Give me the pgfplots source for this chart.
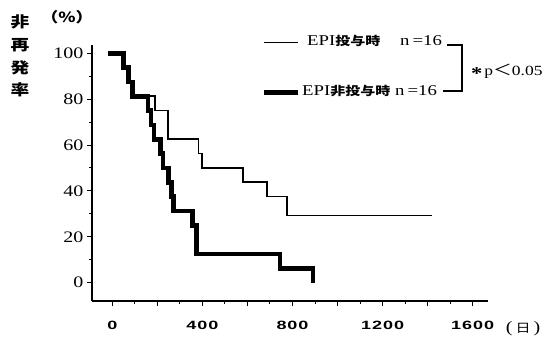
\documentclass[border=0pt]{standalone}
\usepackage{fontspec}
\usepackage{pgfplots}
\pgfplotsset{compat=1.18}
\setmainfont{Liberation Serif}[FakeStretch=1.25]
\newfontfamily\xfont{Liberation Sans}[FakeStretch=1.5, LetterSpace=8]
\newfontfamily\cjk{Noto Sans CJK JP}[FakeStretch=1.25]
\begin{document}
\begin{tikzpicture}
\useasboundingbox (0,0) rectangle (544bp,-342bp);
\begin{axis}[
  at={(92bp,-301bp)}, anchor=south west,
  width=396bp, height=256bp, scale only axis,
  xmin=-90, xmax=1668, ymin=-8, ymax=103.6,
  axis x line*=bottom, axis y line*=left,
  axis line style={line width=1.2bp},
  xtick={0,200,...,1600}, xticklabels={0,,400,,800,,1200,,1600},
  minor xtick={100,300,...,1500},
  ytick={0,20,...,100}, minor ytick={10,30,...,90},
  yticklabels={0,20,40,60,80,100},
  tick align=outside,
  major tick length=5bp, minor tick length=3bp,
  tick style={black, line width=1bp},
  /pgf/number format/assume math mode=true,
  xticklabel style={font=\xfont\bfseries\fontsize{12bp}{13bp}\selectfont, anchor=north, yshift=-12bp},
  yticklabel style={font=\fontsize{16bp}{17bp}\selectfont, anchor=east},
  legend style={draw=none, fill=none, at={(0.428,1.04)}, anchor=north west,
    inner sep=0pt, row sep=35bp, cells={anchor=west},
    font=\fontsize{15bp}{16bp}\selectfont,
    nodes={inner sep=1bp, text height=10bp, text depth=3bp}},
  legend image code/.code={\draw[#1] (0bp,0bp) -- (34bp,0bp);},
]
\addplot[const plot, black, line width=1.6bp, line join=miter] coordinates {
(-20,100) (49,93.75) (71,87.5) (90,81.25) (189,75) (248,62.5) (382,56.25)
(397,50) (581,43.75) (688,37.5) (777,29.2) (1418,29.2)};
\addlegendentry{\makebox[99bp][l]{\hspace{6bp}EPI{\cjk\bfseries\fontsize{12bp}{13bp}\selectfont 投与時}}n\hspace{3bp}=16}
\addplot[const plot, black, line width=4.5bp, line join=miter] coordinates {
(-20,100) (49,93.75) (71,87.5) (90,81.25) (158,75) (172,68.75) (185,62.5)
(215,56.25) (226,50) (250,43.75) (262,37.5) (271,31.25) (356,25) (375,12.5)
(744,6.25) (892,0)};
\addlegendentry{\makebox[94bp][l]{\hspace{1bp}EPI{\cjk\bfseries\fontsize{12bp}{13bp}\selectfont 非投与時}}n\hspace{3bp}=16}
\end{axis}
\draw[line width=1.3bp] (447bp,-45bp) -- (462bp,-45bp) -- (462bp,-91bp) -- (443bp,-91bp);
\node[anchor=west, inner sep=0pt, font=\fontsize{14bp}{15bp}\selectfont] at (471bp,-72bp) {\raisebox{-4bp}{\fontsize{18bp}{18bp}\selectfont\bfseries *}\hspace{2bp}p{\cjk\fontsize{15bp}{16bp}\selectfont ＜}0.05};
\node[inner sep=0pt, font=\cjk\bfseries\fontsize{14bp}{15bp}\selectfont] at (67bp,-17bp) {（\%）};
\node[inner sep=0pt, align=center, font=\cjk\bfseries\fontsize{15bp}{22.8bp}\selectfont] at (20bp,-56bp) {非\\再\\発\\率};
\node[inner sep=0pt, font=\fontsize{16bp}{17bp}\selectfont] at (523bp,-329bp) {(\hspace{3bp}{\cjk\fontsize{12bp}{13bp}\selectfont 日}\hspace{3bp})};
\end{tikzpicture}
\end{document}
